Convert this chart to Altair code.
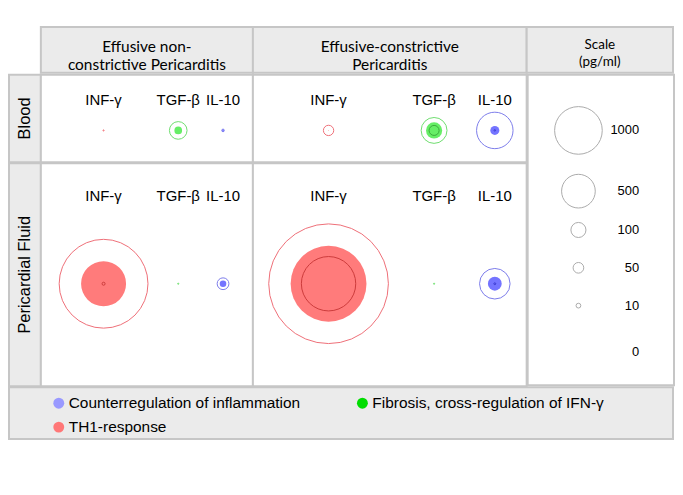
import json
import altair as alt
import pandas as pd

# ---------------- data ----------------
cytokines = ["INF-γ", "TGF-β", "IL-10"]
roles = ["TH1-response", "Fibrosis, cross-regulation of IFN-γ", "Counterregulation of inflammation"]
conditions = ["Effusive non-constrictive Pericarditis", "Effusive-constrictive Pericarditis"]
condition_headers = ["Effusive non-\nconstrictive Pericarditis", "Effusive-constrictive\nPericarditis"]
compartments = ["Blood", "Pericardial Fluid"]

# pg/ml, order: compartment x condition x cytokine
lower_q = [0, 0, 0,      0, 44, 1,       4, 0, 0,        1303, 0, 1.5]
median_v = [0.3, 26, 1.5, 0.3, 115, 36,   892, 0.3, 19,   2536, 0.3, 84]
upper_q = [0.6, 137, 3,  47, 295, 586,   3475, 0.6, 61,  6310, 0.6, 411]

scale_values = [1000, 500, 100, 50, 10, 0]
legend_order = sorted(roles)

rows = []
i = 0
for comp in compartments:
    for cond in conditions:
        for k, cyt in enumerate(cytokines):
            rows.append(dict(compartment=comp, condition=cond, cytokine=cyt, role=roles[k],
                             lower=lower_q[i], median=median_v[i], upper=upper_q[i]))
            i += 1
df = pd.DataFrame(rows)

# ---------------- styles ----------------
GRID = "#c6c6c6"
HEAD = "#ebebeb"
fill_colors = ["#ff7b7b", "#66ee66", "#7474ff"]
outer_colors = ["#ee6f78", "#6fdd6f", "#7c7cea"]
inner_colors = ["#cc3b3b", "#3aaa3a", "#3a3ad0"]
legend_colors = ["#9999ff", "#00dd00", "#ff7777"]  # for legend_order
size_scale = alt.Scale(domain=[0, 10000], range=[0, 22900])
TXT = "Liberation Sans"
HFONT = "Lato"


def view(fill="white", stroke=GRID):
    return alt.ViewBackground(fill=fill, stroke=stroke, strokeWidth=2)


def cell(comp, cond, w, h, label_y, dot_y, xr):
    base = alt.Chart(df).transform_filter(
        (alt.datum.compartment == comp) & (alt.datum.condition == cond)
    ).transform_calculate(ci="indexof(%s, datum.cytokine)" % json.dumps(cytokines))
    x = alt.X("ci:Q", scale=alt.Scale(domain=[0, 1, 2], range=xr, zero=False, nice=False), axis=None)
    y = alt.value(dot_y)
    outer = base.mark_point(shape="circle", filled=False, strokeWidth=1, opacity=1).encode(
        x=x, y=y,
        size=alt.Size("upper:Q", scale=size_scale, legend=None),
        stroke=alt.Stroke("role:N", scale=alt.Scale(domain=roles, range=outer_colors), legend=None),
    )
    mid = base.mark_circle(opacity=1).encode(
        x=x, y=y,
        size=alt.Size("median:Q", scale=size_scale, legend=None),
        color=alt.Color("role:N", scale=alt.Scale(domain=roles, range=fill_colors), legend=None),
    )
    inner = base.mark_point(shape="circle", filled=False, strokeWidth=1, opacity=1).encode(
        x=x, y=y,
        size=alt.Size("lower:Q", scale=size_scale, legend=None),
        stroke=alt.Stroke("role:N", scale=alt.Scale(domain=roles, range=inner_colors), legend=None),
    )
    labels = base.mark_text(font=TXT, fontSize=15, color="black", baseline="middle").encode(
        x=x, y=alt.value(label_y), text="cytokine:N"
    )
    return alt.layer(outer, mid, inner, labels).resolve_scale(stroke="independent").properties(
        width=w, height=h, view=view()
    )


def textcell(text, w, h, font, size, angle=0, fill=HEAD, stroke=GRID, dy=0, lh=17):
    d = pd.DataFrame({"t": [text]})
    mk = dict(font=font, fontSize=size, color="black", align="center", baseline="middle",
              lineBreak="\n", lineHeight=lh)
    if angle:
        mk["angle"] = angle
    return alt.Chart(d).mark_text(**mk).encode(
        x=alt.value(w / 2), y=alt.value(h / 2 + dy), text="t:N"
    ).properties(width=w, height=h, view=view(fill, stroke))


W0, W1, W2, W3 = 32, 213, 275, 147
H0, HB, HP, HL = 46, 88, 224, 52

corner = textcell("", W0, H0, TXT, 12, fill="white", stroke="transparent")
h1 = textcell(condition_headers[0], W1, H0, HFONT, 15.5, dy=-3, lh=18)
h2 = textcell(condition_headers[1], W2, H0, HFONT, 15.5, dy=-3, lh=18)
h3 = textcell("Scale\n(pg/ml)", W3, H0, HFONT, 13.5, dy=-5)

lb = textcell(compartments[0], W0, HB, TXT, 16.5, angle=270)
lp = textcell(compartments[1], W0, HP, TXT, 16.5, angle=270)

p11 = cell(compartments[0], conditions[0], W1, HB, 25, 56, [63, 138, 183])
p12 = cell(compartments[0], conditions[1], W2, HB, 25, 56, [76, 182, 243])
p21 = cell(compartments[1], conditions[0], W1, HP, 33, 121, [63, 138, 183])
p22 = cell(compartments[1], conditions[1], W2, HP, 33, 121, [76, 182, 243])

# scale panel
sdf = pd.DataFrame({"v": scale_values})
sbase = alt.Chart(sdf).transform_calculate(si="indexof(%s, datum.v)" % json.dumps(scale_values))
sy = alt.Y("si:Q", scale=alt.Scale(domain=[0, 1, 2, 3, 4, 5], range=[56, 117, 156, 194, 232, 279],
                                   zero=False, nice=False), axis=None)
scircles = sbase.mark_point(shape="circle", filled=False, stroke="#aaaaaa", strokeWidth=1, opacity=1).encode(
    x=alt.value(51), y=sy, size=alt.Size("v:Q", scale=size_scale, legend=None)
)
stext = sbase.mark_text(font=TXT, fontSize=13, align="right", baseline="middle", color="black").encode(
    x=alt.value(112), y=sy, text=alt.Text("v:Q", format="d")
)
scale_panel = alt.layer(scircles, stext).properties(width=W3, height=HB + HP, view=view())

# legend panel
ldf = pd.DataFrame({"role": legend_order})
lbase = alt.Chart(ldf).transform_calculate(
    li="indexof(%s, datum.role)" % json.dumps(legend_order)
).transform_calculate(col="datum.li % 2", row="floor(datum.li / 2)")
lx = alt.X("col:Q", scale=alt.Scale(domain=[0, 1], range=[50, 355], zero=False, nice=False), axis=None)
ly = alt.Y("row:Q", scale=alt.Scale(domain=[0, 1], range=[16, 40], zero=False, nice=False), axis=None)
lsym = lbase.mark_circle(opacity=1, size=120).encode(
    x=lx, y=ly, fill=alt.Fill("role:N", scale=alt.Scale(domain=legend_order, range=legend_colors), legend=None)
)
ltxt = lbase.mark_text(font=TXT, fontSize=15.5, align="left", baseline="middle", dx=10, color="black").encode(
    x=lx, y=ly, text="role:N"
)
legend_panel = alt.layer(lsym, ltxt).properties(width=W0 + W1 + W2 + W3, height=HL, view=view(HEAD))

RES = dict(size="independent", color="independent", stroke="independent", fill="independent")

header = alt.hconcat(corner, h1, h2, h3, spacing=0, bounds="flush").resolve_scale(**RES)
row_b = alt.hconcat(lb, p11, p12, spacing=0, bounds="flush").resolve_scale(**RES)
row_p = alt.hconcat(lp, p21, p22, spacing=0, bounds="flush").resolve_scale(**RES)
left = alt.vconcat(row_b, row_p, spacing=-2).resolve_scale(**RES)
middle = alt.hconcat(left, scale_panel, spacing=-2).resolve_scale(**RES)
upper = alt.vconcat(header, middle, spacing=-6).resolve_scale(**RES)

chart = alt.vconcat(upper, legend_panel, spacing=-4).resolve_scale(**RES).properties(
    padding={"left": 0, "top": 17, "right": 0, "bottom": 0}
).configure_view(stroke=GRID)

chart.save("out.html", embed_options={"renderer": "svg", "actions": False})
